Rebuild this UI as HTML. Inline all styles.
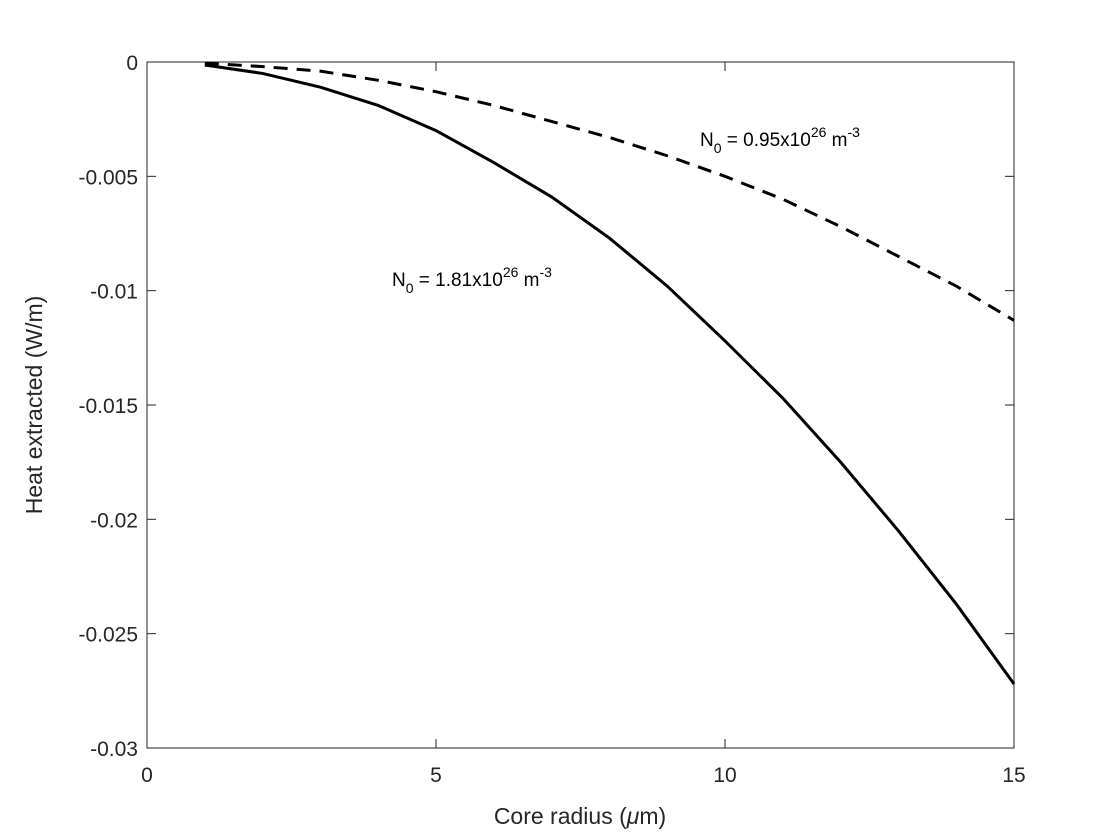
<!DOCTYPE html>
<html><head><meta charset="utf-8"><style>
body{margin:0;background:#fff;}
svg{display:block;font-family:"Liberation Sans",Arial,sans-serif;}
</style></head><body>
<svg id="chart" width="1120" height="840">
<rect x="0" y="0" width="1120" height="840" fill="#fff"/>
<g id="axes"></g>
<g id="series"></g>
<text x="580" y="824" font-size="23" text-anchor="middle" fill="#262626">Core radius (<tspan font-style="italic">μ</tspan>m)</text>
<text transform="translate(42,405) rotate(-90)" font-size="23" text-anchor="middle" fill="#262626">Heat extracted (W/m)</text>
<text x="700" y="146" font-size="19" fill="#000">N<tspan dy="7" font-size="14">0</tspan><tspan dy="-7"> = 0.95x10</tspan><tspan dy="-9" font-size="14">26</tspan><tspan dy="9"> m</tspan><tspan dy="-9" font-size="14">-3</tspan></text>
<text x="392" y="286" font-size="19" fill="#000">N<tspan dy="7" font-size="14">0</tspan><tspan dy="-7"> = 1.81x10</tspan><tspan dy="-9" font-size="14">26</tspan><tspan dy="9"> m</tspan><tspan dy="-9" font-size="14">-3</tspan></text>
</svg>
<script>
const radius=[1,2,3,4,5,6,7,8,9,10,11,12,13,14,15];
const heatHighN=[-0.00013,-0.0005,-0.0011,-0.0019,-0.003,-0.0044,-0.0059,-0.0077,-0.0098,-0.0122,-0.0147,-0.0175,-0.0205,-0.0237,-0.0272];
const heatLowN=[-0.00005,-0.0002,-0.0004,-0.0008,-0.0013,-0.0019,-0.0026,-0.0033,-0.0041,-0.005,-0.006,-0.0072,-0.0085,-0.0098,-0.0113];
const xTicks=[0,5,10,15];
const yTicks=[0,-0.005,-0.01,-0.015,-0.02,-0.025,-0.03];
const yTickLabels=["0","-0.005","-0.01","-0.015","-0.02","-0.025","-0.03"];
const L=147,R=1014,T=62,B=748;
const X=v=>L+(v-0)/15*(R-L);
const Y=v=>T+(0-v)/0.03*(B-T);
const NS="http://www.w3.org/2000/svg";
function mk(tag,attrs,parent){const e=document.createElementNS(NS,tag);for(const k in attrs)e.setAttribute(k,attrs[k]);parent.appendChild(e);return e;}
const ax=document.getElementById('axes');
const box=mk('rect',{x:L,y:T,width:R-L,height:B-T,fill:'none',stroke:'#262626','stroke-width':1},ax);


xTicks.forEach(t=>{
  const x=X(t);
  const l1=mk('line',{x1:x,x2:x,y1:B,y2:B-9,stroke:'#262626'},ax);
  
  
  const l2=mk('line',{x1:x,x2:x,y1:T,y2:T+9,stroke:'#262626'},ax);
  
  
  const tx=mk('text',{x:x,y:B+34,'font-size':21,'text-anchor':'middle',fill:'#262626'},ax);
  tx.textContent=String(t);
  
  
});
yTicks.forEach((t,i)=>{
  const y=Y(t);
  const l1=mk('line',{x1:L,x2:L+9,y1:y,y2:y,stroke:'#262626'},ax);
  
  
  const l2=mk('line',{x1:R,x2:R-9,y1:y,y2:y,stroke:'#262626'},ax);
  
  
  const tx=mk('text',{x:L-9,y:y+8,'font-size':21,'text-anchor':'end',fill:'#262626'},ax);
  tx.textContent=yTickLabels[i];
  
  
});
const sg=document.getElementById('series');
const pts=arr=>radius.map((r,i)=>X(r)+','+Y(arr[i])).join(' ');
const s1=mk('polyline',{points:pts(heatHighN),fill:'none',stroke:'#000','stroke-width':3},sg);


const s2=mk('polyline',{points:pts(heatLowN),fill:'none',stroke:'#000','stroke-width':3,'stroke-dasharray':'14,9'},sg);


</script>
</body></html>
